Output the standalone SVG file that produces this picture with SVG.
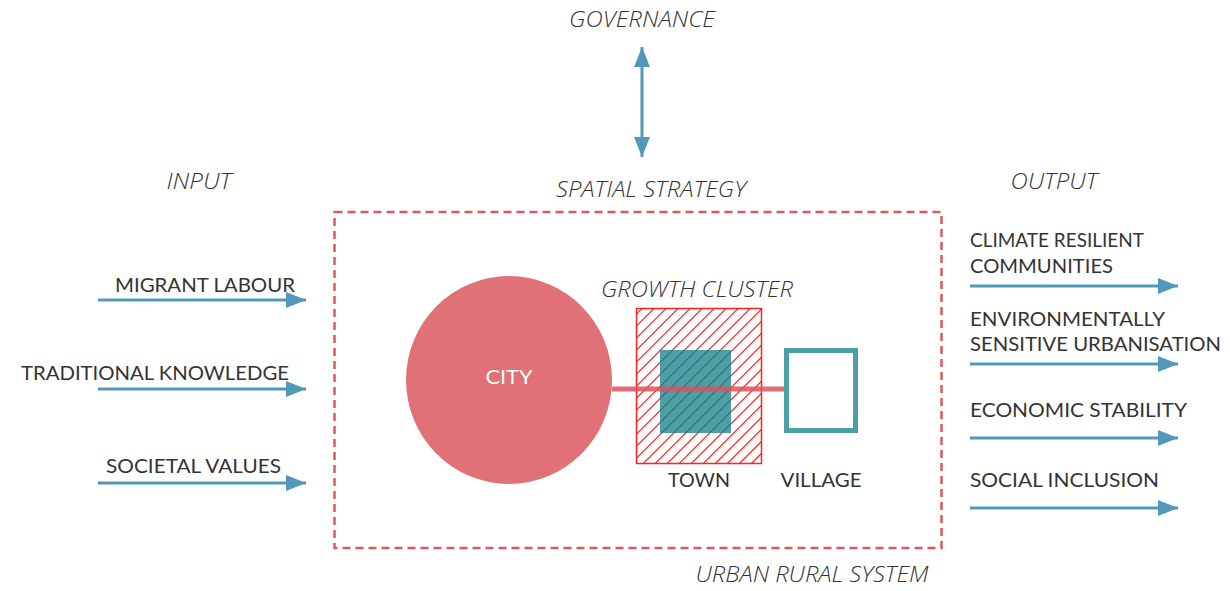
<svg xmlns="http://www.w3.org/2000/svg" width="1230" height="591" viewBox="0 0 1230 591">
<defs>
<style>
.lbl{font-family:"Lato","Liberation Sans",sans-serif;font-size:19px;fill:#333}
.it{font-family:"Open Sans","Liberation Sans",sans-serif;font-style:italic;font-weight:300;font-size:22px;fill:#333}
.arr{stroke:#5299b9;stroke-width:3;fill:none}
</style>
<marker id="ah" viewBox="0 0 20 16" refX="20" refY="8" markerWidth="20" markerHeight="16" markerUnits="userSpaceOnUse" orient="auto-start-reverse">
<path d="M0,0 L20,8 L0,16 Z" fill="#5299b9"/>
</marker>
<pattern id="hatchR" patternUnits="userSpaceOnUse" width="8.5" height="8.5" patternTransform="rotate(45)">
<line x1="0" y1="0" x2="0" y2="8.5" stroke="#ff0000" stroke-width="2.2"/>
</pattern>
<pattern id="hatchD" patternUnits="userSpaceOnUse" width="8.5" height="8.5" patternTransform="rotate(45)">
<line x1="0" y1="0" x2="0" y2="8.5" stroke="#3a5f63" stroke-width="2"/>
</pattern>
</defs>
<rect width="1230" height="591" fill="#fff"/>

<g id="governance">
<text class="it" x="642" y="27" text-anchor="middle" textLength="146" lengthAdjust="spacingAndGlyphs">GOVERNANCE</text>
</g>
<g id="input-title"><text class="it" x="199" y="189" text-anchor="middle" textLength="65" lengthAdjust="spacingAndGlyphs">INPUT</text></g>
<g id="output-title"><text class="it" x="1054" y="189" text-anchor="middle" textLength="87" lengthAdjust="spacingAndGlyphs">OUTPUT</text></g>
<g id="spatial-strategy"><text class="it" x="651" y="197" text-anchor="middle" textLength="190" lengthAdjust="spacingAndGlyphs">SPATIAL STRATEGY</text></g>

<g id="urban-rural-system">
<rect x="334.5" y="212" width="607" height="336" fill="none" stroke="#e0575c" stroke-width="2.5" stroke-dasharray="8,5"/>
<text class="it" x="812" y="582" text-anchor="middle" textLength="233" lengthAdjust="spacingAndGlyphs">URBAN RURAL SYSTEM</text>
</g>

<g id="city">
<ellipse cx="509" cy="380" rx="103" ry="104" fill="#e07176"/>
<text class="lbl" x="509" y="384" text-anchor="middle" style="fill:#fff;font-size:20px" textLength="47" lengthAdjust="spacingAndGlyphs">CITY</text>
</g>

<g id="growth-cluster">
<text class="it" x="697" y="297" text-anchor="middle" textLength="192" lengthAdjust="spacingAndGlyphs">GROWTH CLUSTER</text>
<rect x="636.5" y="308.5" width="125" height="155" fill="url(#hatchR)" stroke="#ff2020" stroke-width="1.5"/>
</g>

<g id="town">
<rect x="660" y="350" width="71" height="83" fill="#4ba0a6"/>
<rect x="660" y="350" width="71" height="83" fill="url(#hatchD)"/>
<text class="lbl" x="699" y="487" text-anchor="middle" textLength="62" lengthAdjust="spacingAndGlyphs">TOWN</text>
</g>

<g id="village">
<rect x="786.5" y="350.5" width="69" height="80" fill="#fff" stroke="#4ba0a6" stroke-width="5"/>
<text class="lbl" x="821" y="487" text-anchor="middle" textLength="81" lengthAdjust="spacingAndGlyphs">VILLAGE</text>
</g>

<g id="connectors">
<line x1="612" y1="389" x2="784" y2="389" stroke="#d9545a" stroke-width="5" stroke-opacity="0.85"/>
<line class="arr" x1="642" y1="47" x2="642" y2="157" marker-start="url(#ah)" marker-end="url(#ah)"/>
<line class="arr" x1="98" y1="300" x2="306" y2="300" marker-end="url(#ah)"/>
<line class="arr" x1="98" y1="389" x2="306" y2="389" marker-end="url(#ah)"/>
<line class="arr" x1="98" y1="483" x2="306" y2="483" marker-end="url(#ah)"/>
<line class="arr" x1="970" y1="286" x2="1178" y2="286" marker-end="url(#ah)"/>
<line class="arr" x1="970" y1="364" x2="1178" y2="364" marker-end="url(#ah)"/>
<line class="arr" x1="970" y1="438" x2="1178" y2="438" marker-end="url(#ah)"/>
<line class="arr" x1="970" y1="508" x2="1178" y2="508" marker-end="url(#ah)"/>
</g>

<g id="inputs">
<text class="lbl" x="295" y="292" text-anchor="end" textLength="180" lengthAdjust="spacingAndGlyphs">MIGRANT LABOUR</text>
<text class="lbl" x="289" y="380" text-anchor="end" textLength="268" lengthAdjust="spacingAndGlyphs">TRADITIONAL KNOWLEDGE</text>
<text class="lbl" x="281" y="473" text-anchor="end" textLength="175" lengthAdjust="spacingAndGlyphs">SOCIETAL VALUES</text>
</g>

<g id="outputs">
<text class="lbl" x="970" y="247" textLength="174" lengthAdjust="spacingAndGlyphs">CLIMATE RESILIENT</text>
<text class="lbl" x="970" y="273" textLength="143" lengthAdjust="spacingAndGlyphs">COMMUNITIES</text>
<text class="lbl" x="970" y="326" textLength="195" lengthAdjust="spacingAndGlyphs">ENVIRONMENTALLY</text>
<text class="lbl" x="970" y="351" textLength="251" lengthAdjust="spacingAndGlyphs">SENSITIVE URBANISATION</text>
<text class="lbl" x="970" y="417" textLength="217" lengthAdjust="spacingAndGlyphs">ECONOMIC STABILITY</text>
<text class="lbl" x="970" y="487" textLength="189" lengthAdjust="spacingAndGlyphs">SOCIAL INCLUSION</text>
</g>
</svg>
